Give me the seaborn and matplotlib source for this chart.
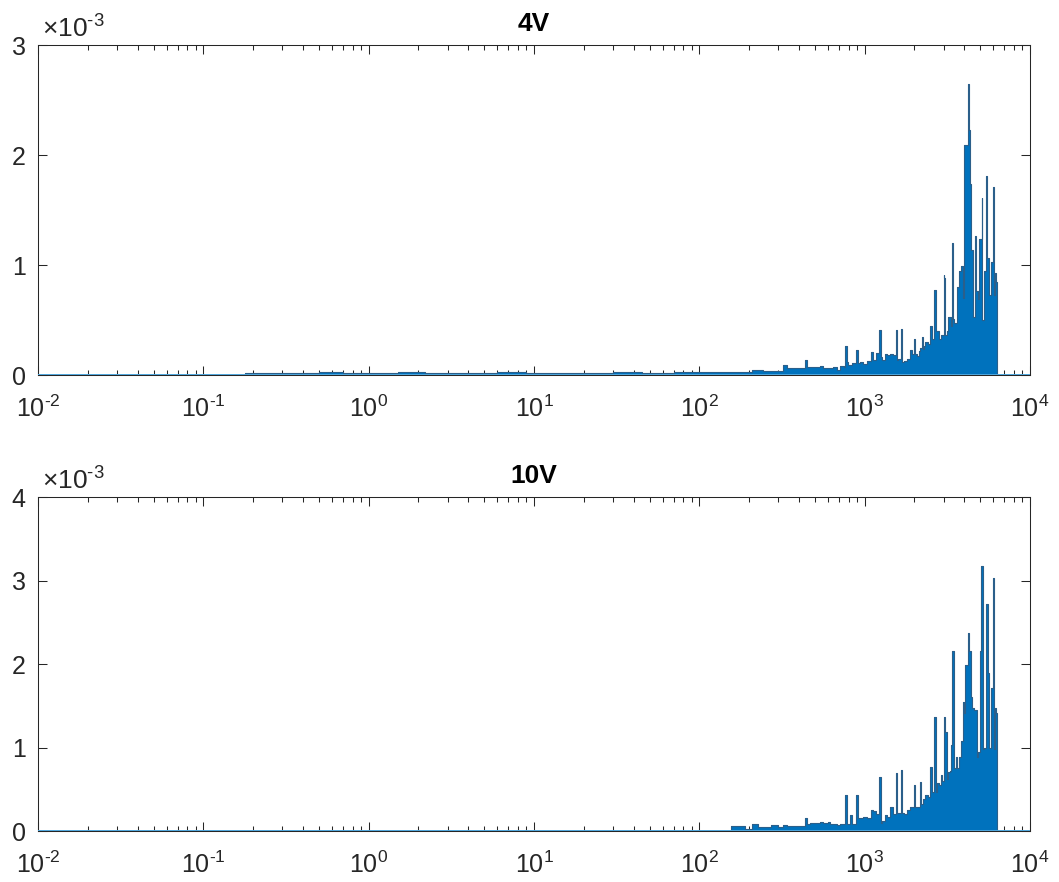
import numpy as np
import matplotlib
matplotlib.use('Agg')
import matplotlib.pyplot as plt
import seaborn as sns
from matplotlib.ticker import LogLocator, NullFormatter, FuncFormatter

# ---- data (amplitudes in units of 1e-3), step bins start at listed frequency ----
titles = ['4V', '10V']

freq_4v = [0.01, 0.179, 0.25, 0.35, 0.5, 0.7, 1.0, 1.5, 2.2, 3, 4.5, 6, 9, 13, 20, 30, 45, 70, 100,
           147, 208, 244, 320, 338, 437, 450, 468, 538, 560, 618, 647, 679, 711, 745,
           762, 780, 798, 837, 889, 917, 939, 984, 1031, 1089, 1130, 1169, 1225, 1250, 1271,
           1330, 1374, 1426, 1494, 1545, 1575, 1601, 1648, 1680, 1718, 1800, 1885, 1938, 1995,
           2030, 2070, 2120, 2167, 2218, 2250, 2280, 2323, 2411, 2490, 2570, 2632, 2698, 2757,
           2825, 2904, 3000, 3040, 3069, 3142, 3214, 3334, 3396, 3440, 3475, 3565, 3640, 3733,
           3802, 3908, 4000, 4111, 4207, 4250, 4330, 4420, 4540, 4620, 4720, 4830, 4940, 5100,
           5150, 5260, 5430, 5500, 5620, 5780, 5957, 6067, 6152, 6250, 6310]
amp_4v = [0, 0.02, 0.015, 0.02, 0.025, 0.015, 0.02, 0.025, 0.02, 0.015, 0.02, 0.025, 0.02, 0.015, 0.02, 0.025, 0.02, 0.03, 0.025,
          0.03, 0.05, 0.04, 0.09, 0.06, 0.14, 0.07, 0.07, 0.08, 0.06, 0.06, 0.07, 0.05, 0.08, 0.07,
          0.26, 0.12, 0.09, 0.11, 0.23, 0.11, 0.12, 0.10, 0.13, 0.21, 0.14, 0.20, 0.41, 0.16, 0.14,
          0.19, 0.18, 0.19, 0.18, 0.41, 0.14, 0.15, 0.42, 0.12, 0.13, 0.15, 0.23, 0.19, 0.33,
          0.19, 0.17, 0.22, 0.25, 0.35, 0.24, 0.26, 0.30, 0.28, 0.45, 0.33, 0.77, 0.40, 0.40,
          0.33, 0.36, 0.91, 0.88, 0.36, 0.40, 0.53, 0.45, 1.20, 0.51, 0.47, 0.47, 0.80, 0.95,
          0.99, 0.70, 2.09, 2.09, 2.65, 2.23, 1.74, 1.14, 0.53, 1.26, 0.76, 0.69, 1.24, 1.61,
          0.50, 0.95, 1.81, 1.06, 0.73, 1.03, 1.71, 0.73, 0.93, 0.85, 0]

freq_10v = [0.01, 155, 175, 190, 208, 225, 244, 270, 300, 320, 338, 380, 437, 450, 468, 538, 560,
            600, 618, 650, 680, 711, 745, 762, 780, 798, 818, 837, 865, 889, 917, 939, 984, 1031,
            1089, 1130, 1169, 1225, 1250, 1271, 1330, 1374, 1426, 1494, 1545, 1575, 1601, 1648,
            1680, 1718, 1800, 1885, 1938, 1995, 2030, 2070, 2167, 2200, 2260, 2323, 2411, 2490,
            2570, 2632, 2698, 2757, 2825, 2904, 2950, 3000, 3069, 3142, 3214, 3280, 3334, 3396,
            3475, 3565, 3640, 3733, 3802, 3908, 4000, 4055, 4190, 4285, 4385, 4487, 4592, 4656,
            4786, 4875, 4989, 5070, 5188, 5297, 5430, 5559, 5662, 5821, 5957, 6067, 6152, 6250, 6310]
amp_10v = [0, 0.06, 0.06, 0.02, 0.08, 0.05, 0.05, 0.07, 0.05, 0.07, 0.06, 0.06, 0.15, 0.08, 0.10, 0.11, 0.10,
           0.11, 0.08, 0.08, 0.07, 0.08, 0.08, 0.43, 0.08, 0.08, 0.19, 0.08, 0.08, 0.43, 0.15, 0.15, 0.17, 0.15,
           0.25, 0.24, 0.20, 0.65, 0.10, 0.12, 0.19, 0.17, 0.29, 0.20, 0.69, 0.22, 0.22, 0.73,
           0.22, 0.20, 0.25, 0.29, 0.29, 0.55, 0.29, 0.29, 0.59, 0.32, 0.38, 0.43, 0.41, 0.77,
           0.47, 1.36, 0.47, 0.57, 0.55, 0.67, 0.60, 1.36, 1.19, 0.62, 0.71, 0.72, 1.03, 2.15,
           0.75, 0.89, 0.75, 0.89, 1.08, 1.54, 1.41, 1.99, 2.37, 2.15, 1.61, 1.47, 1.45, 1.45,
           0.89, 0.95, 2.15, 3.17, 0.98, 1.00, 2.72, 1.89, 1.00, 1.71, 3.03, 0.98, 1.47, 1.41, 0]

y_max = [3, 4]
y_ticks = [[0, 1, 2, 3], [0, 1, 2, 3, 4]]

# ---- style ----
sns.set_style('ticks')
plt.rcParams['font.family'] = ['Liberation Sans', 'DejaVu Sans']
plt.rcParams['mathtext.fontset'] = 'custom'
plt.rcParams['mathtext.rm'] = 'Liberation Sans'
plt.rcParams['mathtext.it'] = 'Liberation Sans:italic'
plt.rcParams['mathtext.bf'] = 'Liberation Sans:bold'

FACE = '#0072BD'
EDGE = '#2b5f8a'
BASE = '#4fa6dc'
AXC = '#262626'


def log_label(v, pos):
    k = int(round(np.log10(v)))
    if k < 0:
        return r'$10^{\text{-}%d}$' % (-k)
    return r'$10^{%d}$' % k


fig = plt.figure(figsize=(10.59, 8.82), dpi=100)
ax1 = fig.add_axes([0.0359, 0.5748, 0.9367, 0.3741])
ax2 = fig.add_axes([0.0359, 0.0578, 0.9367, 0.3787])

series = [(freq_4v, amp_4v), (freq_10v, amp_10v)]
for i, ax in enumerate([ax1, ax2]):
    f, a = series[i]
    ax.set_xscale('log')
    ax.fill_between(f, a, step='post', color=FACE, linewidth=0, zorder=2)
    sns.lineplot(x=f, y=a, ax=ax, drawstyle='steps-post', estimator=None, sort=False,
                 color=EDGE, linewidth=0.8, zorder=3)
    ax.axhline(0, color=BASE, linewidth=1.4, zorder=4)
    ax.set_xlim(1e-2, 1e4)
    ax.set_ylim(0, y_max[i])
    ax.set_yticks(y_ticks[i])
    ax.xaxis.set_major_locator(LogLocator(base=10, numticks=20))
    ax.xaxis.set_major_formatter(FuncFormatter(log_label))
    ax.xaxis.set_minor_locator(LogLocator(base=10, subs=np.arange(2, 10), numticks=20))
    ax.xaxis.set_minor_formatter(NullFormatter())
    ax.set_xlabel('')
    ax.set_ylabel('')
    ax.tick_params(which='both', direction='in', top=True, right=True,
                   colors=AXC, labelsize=18, width=0.75)
    ax.tick_params(which='major', length=6.5)
    ax.tick_params(which='minor', length=3.3)
    ax.tick_params(axis='x', pad=15)
    ax.tick_params(axis='y', pad=9)
    for s in ax.spines.values():
        s.set_visible(True)
        s.set_color(AXC)
        s.set_linewidth(0.75)
    ax.set_title(titles[i], fontweight='bold', fontsize=19, pad=10, color='black')
    ax.text(0.004, 1.008, r'$\times10^{\text{-}3}$', transform=ax.transAxes,
            fontsize=19, color=AXC, ha='left', va='bottom')

fig.savefig('out.png', dpi=100)
